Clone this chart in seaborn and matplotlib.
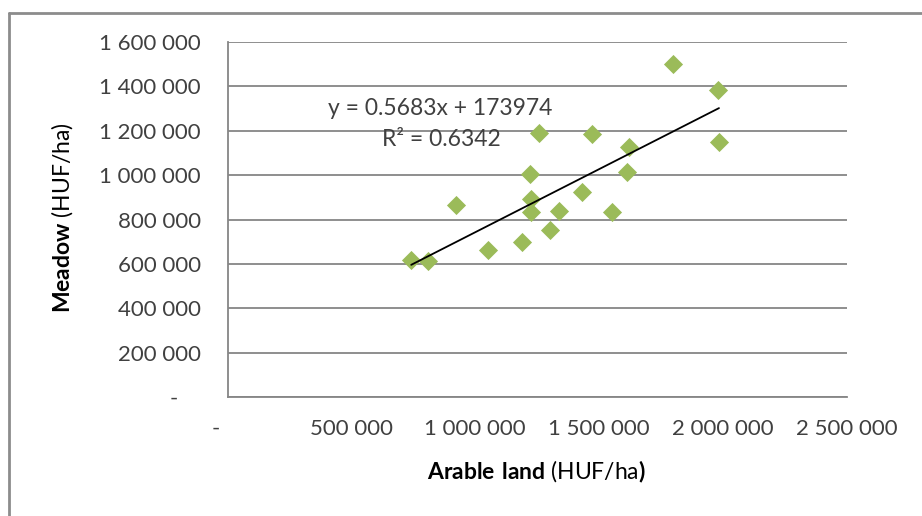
import numpy as np
import pandas as pd
import matplotlib
matplotlib.use("Agg")
import matplotlib.pyplot as plt
from matplotlib.ticker import FuncFormatter
from matplotlib.lines import Line2D
import seaborn as sns

# values (HUF/ha)
arable = [1800000, 1980000, 1985000, 1258000, 1473000, 1623000, 1614000,
          1220000, 1430000, 1225000, 1226000, 1340000, 1553000, 923000,
          1302000, 1188000, 1053000, 742000, 808000]
meadow = [1503000, 1383000, 1151000, 1188000, 1185000, 1128000, 1016000,
          1006000, 922000, 893000, 836000, 839000, 836000, 866000,
          751000, 697000, 664000, 617000, 612000]

# trendline shown on the chart
slope = 0.5683
intercept = 173974
r_squared = 0.6342

x_ticks = [0, 500000, 1000000, 1500000, 2000000, 2500000]
y_ticks = [0, 200000, 400000, 600000, 800000, 1000000, 1200000, 1400000, 1600000]

sns.set_style("white")
plt.rcParams['font.family'] = ['Lato', 'DejaVu Sans']
plt.rcParams['mathtext.fontset'] = 'custom'
plt.rcParams['mathtext.rm'] = 'Lato'
plt.rcParams['mathtext.bf'] = 'Lato:bold'

grey = "#868686"
text_col = "#404040"


def fmt(v, pos):
    if v == 0:
        return "-    "
    return f"{v:,.0f}".replace(",", " ")


df = pd.DataFrame({"arable": arable, "meadow": meadow})

fig = plt.figure(figsize=(9.22, 5.16), dpi=100)
ax = fig.add_axes([227.5 / 922, 1 - 397 / 516, 619 / 922, 355 / 516])

sns.scatterplot(data=df, x="arable", y="meadow", marker="D", s=95,
                color="#9BBB59", edgecolor="#9BBB59", linewidth=0,
                ax=ax, zorder=3, legend=False)

# linear trendline over the data range
xs = np.array([df["arable"].min(), df["arable"].max()])
ax.plot(xs, slope * xs + intercept, color="black", lw=1.3, zorder=4)

ax.set_xlim(x_ticks[0], x_ticks[-1])
ax.set_ylim(y_ticks[0], y_ticks[-1])
ax.set_xticks(x_ticks)
ax.set_yticks(y_ticks)
ax.xaxis.set_major_formatter(FuncFormatter(fmt))
ax.yaxis.set_major_formatter(FuncFormatter(fmt))

ax.yaxis.grid(True, color=grey, lw=1.3)
ax.xaxis.grid(False)
for s in ["top", "right"]:
    ax.spines[s].set_visible(False)
for s in ["left", "bottom"]:
    ax.spines[s].set_color(grey)
    ax.spines[s].set_linewidth(1.3)

ax.tick_params(axis="both", direction="out", length=6, width=1.2, color=grey,
               labelsize=16, labelcolor=text_col)
ax.tick_params(axis="y", pad=13)
ax.tick_params(axis="x", pad=10)
ax.set_xlabel("")
ax.set_ylabel("")

fig.text(62 / 922, 1 - 218 / 516, r"$\bf{Meadow}$ (HUF/ha)", rotation=90,
         ha="center", va="center", fontsize=16.5, color="black")
fig.text(536 / 922, 1 - 472 / 516, r"$\bf{Arable\ land}$ (HUF/ha$\bf{)}$",
         ha="center", va="center", fontsize=16.5, color="black")

ax.text(0.343, 0.814, f"y = {slope}x + {intercept}", transform=ax.transAxes,
        ha="center", va="center", fontsize=16.5, color=text_col)
ax.text(0.345, 0.724, f"R² = {r_squared}", transform=ax.transAxes,
        ha="center", va="center", fontsize=16.5, color=text_col)

# chart area border (only left and top edges are visible in the crop)
fig.add_artist(Line2D([9 / 922, 9 / 922], [0, 1 - 13 / 516],
                      transform=fig.transFigure, color="#8c8c8c", lw=2))
fig.add_artist(Line2D([9 / 922, 1], [1 - 13 / 516, 1 - 13 / 516],
                      transform=fig.transFigure, color="#8c8c8c", lw=2))

fig.savefig("out.png", dpi=100)
